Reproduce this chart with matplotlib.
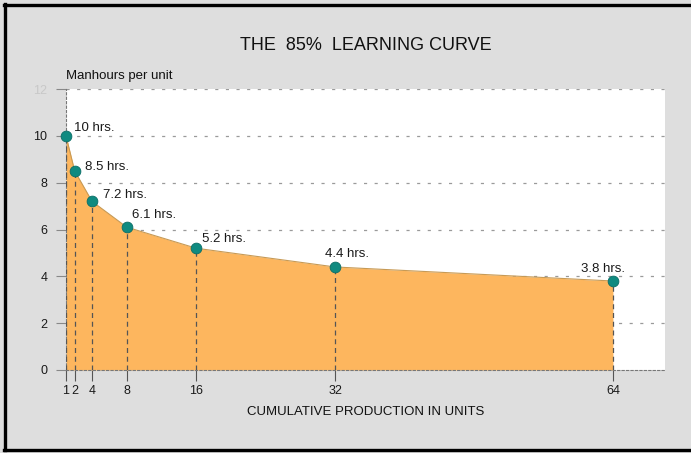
import matplotlib.pyplot as plt
from matplotlib.lines import Line2D

plt.rcParams['font.family'] = ['Liberation Sans', 'DejaVu Sans']

units = [1, 2, 4, 8, 16, 32, 64]
hours = [10, 8.5, 7.2, 6.1, 5.2, 4.4, 3.8]
labels = ["10 hrs.", "8.5 hrs.", "7.2 hrs.", "6.1 hrs.", "5.2 hrs.", "4.4 hrs.", "3.8 hrs."]
# label offsets in pixels from each point
offsets = [(8, 8), (10, 4), (11, 6), (5, 12), (6, 9), (-10, 13), (-32, 12)]
xtick_labels = ["1", "2", "4", "8", "16", "32", "64"]
yticks = [0, 2, 4, 6, 8, 10, 12]

bg = "#dedede"
orange = "#fdb65e"
teal = "#0f8a80"

fig = plt.figure(figsize=(6.91, 4.53), dpi=100, facecolor=bg)
ax = fig.add_axes([66 / 691, 1 - 370 / 453, (665 - 66) / 691, (370 - 89) / 453])
ax.set_facecolor("white")
ax.set_xlim(1, 70)
ax.set_ylim(0, 12)

# horizontal dashed grid
for y in yticks[1:]:
    ax.axhline(y, color="#9a9a9a", lw=0.9, dashes=(2.5, 6), zorder=1)

ax.fill_between(units, hours, 0, color=orange, zorder=2, lw=0)
ax.plot(units, hours, color="#c79a55", lw=0.8, zorder=3)

for x, h in zip(units, hours):
    ax.plot([x, x], [0, h], color="#555555", lw=0.9, dashes=(4, 3), zorder=3)

ax.scatter(units, hours, s=60, color=teal, edgecolor="#0a6d66", lw=0.6, zorder=5, clip_on=False)

for x, h, t, (dx, dy) in zip(units, hours, labels, offsets):
    ax.annotate(t, (x, h), xytext=(dx, dy), textcoords="offset pixels",
                ha="left", va="center", fontsize=9.5, color="#1a1a1a", zorder=6)

for s in ["top", "right"]:
    ax.spines[s].set_visible(False)
for s in ["left", "bottom"]:
    ax.spines[s].set_color("#777777")
    ax.spines[s].set_linestyle((0, (2, 2)))
    ax.spines[s].set_linewidth(0.8)

ax.set_xticks(units)
ax.set_xticklabels(xtick_labels)
ax.set_yticks(yticks)
ax.set_yticklabels([str(v) for v in yticks])
ax.tick_params(axis="x", length=8, width=0.8, color="#555555", pad=3, labelsize=9, labelcolor="#1a1a1a")
ax.tick_params(axis="y", length=7, width=0.8, color="#888888", pad=6.5, labelsize=9, labelcolor="#1a1a1a")
ax.get_yticklabels()[-1].set_color("#c8c8c8")

fig.text(366 / 691, 1 - 45 / 453, "THE  85%  LEARNING CURVE", ha="center", va="center",
         fontsize=13, color="#111111")
fig.text(66 / 691, 1 - 76 / 453, "Manhours per unit", ha="left", va="center", fontsize=9.5, color="#111111")
fig.text(366 / 691, 1 - 412 / 453, "CUMULATIVE PRODUCTION IN UNITS", ha="center", va="center",
         fontsize=9.5, color="#111111")

# frame: top, left and bottom dark borders
fig.add_artist(Line2D([4 / 691, 1], [1 - 4.5 / 453] * 2, color="black", lw=2.4, transform=fig.transFigure))
fig.add_artist(Line2D([5 / 691] * 2, [1 - 450 / 453, 1 - 4 / 453], color="black", lw=2.4, transform=fig.transFigure))
fig.add_artist(Line2D([4 / 691, 1], [1 - 450 / 453] * 2, color="black", lw=2.4, transform=fig.transFigure))

fig.savefig("out.png", dpi=100, facecolor=bg)
